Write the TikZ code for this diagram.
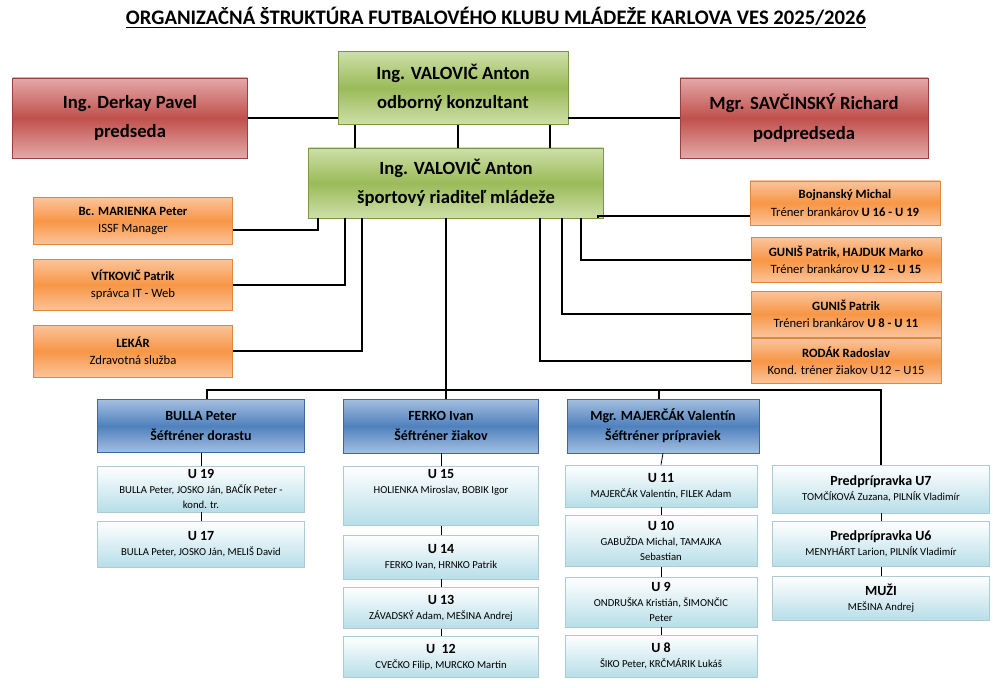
\documentclass[tikz,border=0pt]{standalone}
\usepackage{fontspec}
\setmainfont{Carlito}
\usetikzlibrary{positioning,calc}
\definecolor{redMid}{HTML}{C0504D}
\definecolor{redEdge}{HTML}{E4A9A8}
\definecolor{greenMid}{HTML}{9BBB59}
\definecolor{greenEdge}{HTML}{CDDFA8}
\definecolor{orangeMid}{HTML}{F79646}
\definecolor{orangeEdge}{HTML}{FBC49B}
\definecolor{blueMid}{HTML}{4F81BD}
\definecolor{blueEdge}{HTML}{A5BFE0}
\definecolor{lightEdge}{HTML}{B7DEE8}
\tikzset{
    boxsize/.style 2 args={minimum width=#1*0.75pt, minimum height=#2*0.75pt, inner sep=1pt, align=center},
    redbox/.style={draw=redMid!80!black, top color=redEdge, bottom color=redEdge, middle color=redMid, font=\fontsize{14}{22}\selectfont\bfseries},
    greenbox/.style={draw=greenMid!80!black, top color=greenEdge, bottom color=greenEdge, middle color=greenMid, font=\fontsize{14}{22}\selectfont\bfseries},
    orangebox/.style={draw=orangeMid!90!black, top color=orangeEdge, bottom color=orangeEdge, middle color=orangeMid, font=\fontsize{9.5}{13}\selectfont},
    bluebox/.style={draw=blueMid!80!black, top color=blueEdge, bottom color=blueEdge, middle color=blueMid, font=\fontsize{10.5}{15}\selectfont\bfseries},
    lightbox/.style={draw=lightEdge!80!gray, top color=white, bottom color=lightEdge, font=\fontsize{8}{11.5}\selectfont},
    link/.style={draw=black, line width=1pt},
}
\newcommand{\hd}[1]{{\fontsize{10.5}{14}\selectfont\bfseries #1}}
\begin{document}
\begin{tikzpicture}[x=0.75pt, y=-0.75pt]
    \useasboundingbox (0,0) rectangle (993,688);
    \node (title) at (496,18) {\fontsize{15.5}{17}\selectfont\bfseries\underline{ORGANIZAČNÁ ŠTRUKTÚRA FUTBALOVÉHO KLUBU MLÁDEŽE KARLOVA VES 2025/2026}};
    % top level
    \node[greenbox, boxsize={230}{73}] (cons) at (453,88) {Ing. VALOVIČ Anton\\odborný konzultant};
    \node[redbox, boxsize={235}{80}] (pred) at (130,118) {Ing. Derkay Pavel\\predseda};
    \node[redbox, boxsize={248}{80}] (podp) at (804,118) {Mgr. SAVČINSKÝ Richard\\podpredseda};
    \node[greenbox, boxsize={295}{70}] (riad) at (456,183) {Ing. VALOVIČ Anton\\športový riaditeľ mládeže};
    \draw[link] (pred.east) -- (cons.west |- pred.east);
    \draw[link] (cons.east |- podp.west) -- (podp.west);
    \foreach \x in {355,458,550}
        \draw[link] (cons.south -| \x,0) -- (riad.north -| \x,0);
    % left side
    \node[orangebox, boxsize={199}{47}] (mar) at (133,221) {\textbf{Bc. MARIENKA Peter}\\ISSF Manager};
    \node[orangebox, boxsize={199}{51}] (vit) at (133,285) {\textbf{VÍTKOVIČ Patrik}\\správca IT - Web};
    \node[orangebox, boxsize={199}{52}] (lek) at (133,351) {\textbf{LEKÁR}\\Zdravotná služba};
    \draw[link] ($(mar.east)+(0,9)$) -| (riad.south -| 318,0);
    \draw[link] (vit.east) -| (riad.south -| 345,0);
    \draw[link] (lek.east) -| (riad.south -| 362,0);
    % right side
    \node[orangebox, boxsize={190}{44}] (boj) at (845,203) {\textbf{Bojnanský Michal}\\Tréner brankárov \textbf{U 16 - U 19}};
    \node[orangebox, boxsize={190}{45}] (gun) at (846,260) {\textbf{GUNIŠ Patrik, HAJDUK Marko}\\Tréner brankárov \textbf{U 12 – U 15}};
    \node[orangebox, boxsize={190}{46}] (gup) at (846,314) {\textbf{GUNIŠ Patrik}\\Tréneri brankárov \textbf{U 8 - U 11}};
    \node[orangebox, boxsize={190}{45}] (rod) at (846,361) {\textbf{RODÁK Radoslav}\\Kond. tréner žiakov U12 – U15};
    \draw[link] (riad.south -| 598,0) |- ($(boj.west)+(0,13)$);
    \draw[link] (riad.south -| 581,0) |- (gun.west);
    \draw[link] (riad.south -| 562,0) |- (gup.west);
    \draw[link] (riad.south -| 540,0) |- (rod.west);
    % head coaches
    \node[bluebox, boxsize={207}{53}] (bul) at (201,426) {BULLA Peter\\Šéftréner dorastu};
    \node[bluebox, boxsize={195}{54}] (fer) at (441,426) {FERKO Ivan\\Šéftréner žiakov};
    \node[bluebox, boxsize={192}{54}] (maj) at (663,426) {Mgr. MAJERČÁK Valentín\\Šéftréner prípraviek};
    \coordinate (bus) at (446,390);
    \draw[link] (riad.south -| bus) -- (bus);
    \draw[link] (bul.north -| 207,0) |- (bus) -| (maj.north -| 659,0);
    \draw[link] (bus) -| (fer.north -| bus);
    % column 1
    \node[lightbox, boxsize={207}{46}] (u19) at (201,489) {\hd{U 19}\\BULLA Peter, JOSKO Ján, BAČÍK Peter -\\kond. tr.};
    \node[lightbox, boxsize={207}{46}] (u17) at (201,544) {\hd{U 17}\\BULLA Peter, JOSKO Ján, MELIŠ David};
    % column 2
    \node[lightbox, boxsize={195}{59}] (u15) at (441,496) {\hd{U 15}\\HOLIENKA Miroslav, BOBIK Igor\\[10pt]};
    \node[lightbox, boxsize={195}{44}] (u14) at (441,557) {\hd{U 14}\\FERKO Ivan, HRNKO Patrik};
    \node[lightbox, boxsize={195}{41}] (u13) at (441,608) {\hd{U 13}\\ZÁVADSKÝ Adam, MEŠINA Andrej};
    \node[lightbox, boxsize={195}{41}] (u12) at (441,657) {\hd{U \ 12}\\CVEČKO Filip, MURCKO Martin};
    % column 3
    \node[lightbox, boxsize={192}{42}] (u11) at (661,486) {\hd{U 11}\\MAJERČÁK Valentín, FILEK Adam};
    \node[lightbox, boxsize={192}{51}] (u10) at (661,541) {\hd{U 10}\\GABUŽDA Michal, TAMAJKA\\Sebastian};
    \node[lightbox, boxsize={192}{50}] (u9) at (661,602) {\hd{U 9}\\ONDRUŠKA Kristián, ŠIMONČIC\\Peter};
    \node[lightbox, boxsize={192}{42}] (u8) at (661,656) {\hd{U 8}\\ŠIKO Peter, KRČMÁRIK Lukáš};
    % column 4
    \node[lightbox, boxsize={217}{48}] (u7) at (881,489) {\hd{Predprípravka U7}\\TOMČÍKOVÁ Zuzana, PILNÍK Vladimír};
    \node[lightbox, boxsize={217}{45}] (u6) at (881,544) {\hd{Predprípravka U6}\\MENYHÁRT Larion, PILNÍK Vladimír};
    \node[lightbox, boxsize={217}{44}] (muz) at (881,598) {\hd{MUŽI}\\MEŠINA Andrej};
    \draw[link] (bus -| 659,0) -| (u7.north);
    \foreach \a/\b in {bul/u19, u19/u17, fer/u15, u15/u14, u14/u13, u13/u12, maj/u11, u11/u10, u10/u9, u9/u8, u7/u6, u6/muz}
        \draw[line width=0.6pt] (\a.south) -- (\b.north);
\end{tikzpicture}
\end{document}
